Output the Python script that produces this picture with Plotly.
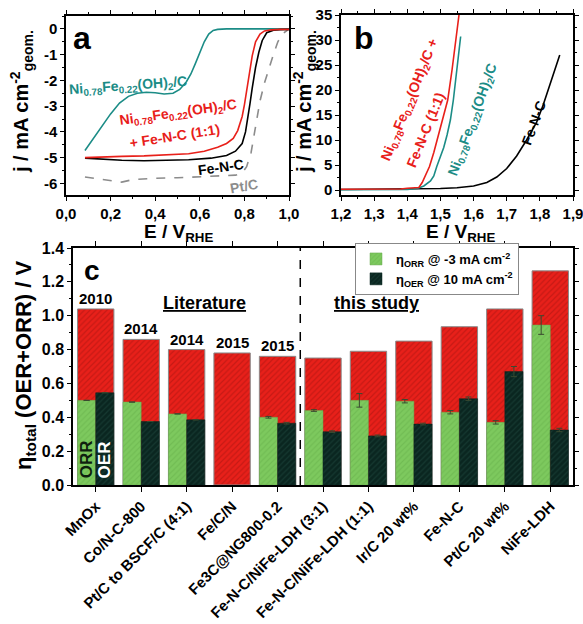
import plotly.graph_objects as go

W, H = 583, 624
FONT = "Liberation Sans, Arial, sans-serif"
TEAL = "#1b8c86"
RED = "#e8201a"
GREY = "#8c8c8c"

# ---------------- Panel a (ORR) data ----------------
a_teal_x = [0.085, 0.12, 0.16, 0.20, 0.24, 0.28, 0.32, 0.36, 0.40, 0.44, 0.48, 0.51, 0.54, 0.56, 0.58, 0.60, 0.62, 0.64, 0.66, 0.68, 0.72, 0.80, 0.90, 1.00]
a_teal_y = [-4.72, -4.30, -3.80, -3.30, -2.88, -2.62, -2.50, -2.46, -2.48, -2.53, -2.50, -2.35, -2.05, -1.75, -1.35, -0.90, -0.50, -0.20, -0.06, -0.02, 0.0, 0.0, 0.0, 0.0]

a_red_x = [0.085, 0.15, 0.25, 0.35, 0.45, 0.55, 0.62, 0.68, 0.72, 0.75, 0.77, 0.79, 0.80, 0.81, 0.82, 0.835, 0.85, 0.87, 0.89, 0.92, 0.96, 1.00]
a_red_y = [-5.00, -4.97, -4.95, -4.93, -4.90, -4.85, -4.75, -4.60, -4.45, -4.25, -3.95, -3.40, -2.95, -2.40, -1.80, -1.05, -0.50, -0.20, -0.08, -0.04, -0.02, -0.02]

a_blk_x = [0.085, 0.15, 0.25, 0.35, 0.45, 0.55, 0.65, 0.72, 0.76, 0.79, 0.805, 0.815, 0.825, 0.835, 0.85, 0.865, 0.88, 0.90, 0.93, 0.96, 1.00]
a_blk_y = [-5.02, -5.06, -5.10, -5.12, -5.10, -5.08, -5.02, -4.92, -4.75, -4.45, -4.00, -3.50, -2.90, -2.30, -1.50, -0.90, -0.45, -0.15, -0.05, -0.03, -0.02]

a_pt_x = [0.085, 0.15, 0.20, 0.25, 0.30, 0.40, 0.50, 0.60, 0.70, 0.76, 0.79, 0.81, 0.83, 0.85, 0.87, 0.89, 0.91, 0.93, 0.95, 0.97, 1.00]
a_pt_y = [-5.75, -5.82, -5.90, -5.95, -5.85, -5.80, -5.78, -5.75, -5.72, -5.68, -5.60, -5.35, -4.80, -3.80, -2.80, -2.10, -1.50, -1.00, -0.50, -0.20, 0.0]

a_xticks = [0.0, 0.2, 0.4, 0.6, 0.8, 1.0]
a_xticktext = ["0,0", "0,2", "0,4", "0,6", "0,8", "1,0"]
a_yticks = [0, -1, -2, -3, -4, -5, -6]
a_yticktext = ["0", "-1", "-2", "-3", "-4", "-5", "-6"]

# ---------------- Panel b (OER) data ----------------
b_red_x = [1.20, 1.30, 1.38, 1.40, 1.435, 1.445, 1.455, 1.467, 1.48, 1.49, 1.50, 1.51, 1.522, 1.535, 1.545, 1.556]
b_red_y = [0.15, 0.15, 0.20, 0.35, 0.50, 1.5, 3.0, 4.7, 7.5, 10.0, 12.5, 15.0, 18.0, 24.0, 29.0, 35.0]

b_teal_x = [1.20, 1.30, 1.40, 1.43, 1.45, 1.47, 1.48, 1.489, 1.50, 1.51, 1.52, 1.53, 1.539, 1.55, 1.561]
b_teal_y = [0.05, 0.05, 0.10, 0.30, 0.80, 1.8, 2.8, 4.7, 6.5, 8.5, 11.0, 14.0, 18.0, 24.0, 30.7]

b_blk_x = [1.20, 1.40, 1.50, 1.55, 1.60, 1.64, 1.67, 1.70, 1.73, 1.76, 1.79, 1.81, 1.83, 1.845, 1.86]
b_blk_y = [0.10, 0.15, 0.30, 0.45, 0.80, 1.5, 2.6, 4.3, 6.8, 10.0, 13.5, 17.0, 21.0, 24.0, 27.0]

b_xticks = [1.2, 1.3, 1.4, 1.5, 1.6, 1.7, 1.8, 1.9]
b_xticktext = ["1,2", "1,3", "1,4", "1,5", "1,6", "1,7", "1,8", "1,9"]
b_yticks = [0, 5, 10, 15, 20, 25, 30, 35]

# ---------------- Panel c (bars) data ----------------
categories = ["MnOx", "Co/N-C-800", "Pt/C to BSCF/C (4:1)", "Fe/C/N", "Fe3C@NG800-0.2",
              "Fe-N-C/NiFe-LDH (3:1)", "Fe-N-C/NiFe-LDH (1:1)", "Ir/C 20 wt%", "Fe-N-C",
              "Pt/C 20 wt%", "NiFe-LDH"]
eta_total = [1.04, 0.86, 0.80, 0.78, 0.76, 0.75, 0.79, 0.85, 0.935, 1.04, 1.265]
eta_orr = [0.50, 0.49, 0.42, None, 0.40, 0.44, 0.50, 0.495, 0.43, 0.37, 0.945]
eta_oer = [0.545, 0.375, 0.385, None, 0.365, 0.315, 0.29, 0.36, 0.51, 0.67, 0.325]
err_orr = [0, 0, 0, 0, 0.005, 0.005, 0.04, 0.01, 0.01, 0.01, 0.055]
err_oer = [0, 0, 0, 0, 0.005, 0.005, 0.005, 0.005, 0.01, 0.03, 0.01]
years = ["2010", "2014", "2014", "2015", "2015"]
divider_x = 4.5
c_yticks = [0.0, 0.2, 0.4, 0.6, 0.8, 1.0, 1.2, 1.4]

x_idx = list(range(len(categories)))

fig = go.Figure()

def line_trace(x, y, ax, ay, color, dash="solid", width=1.6):
    return go.Scatter(x=x, y=y, xaxis=ax, yaxis=ay, mode="lines",
                      line=dict(color=color, width=width, dash=dash),
                      showlegend=False, hoverinfo="skip")

fig.add_trace(line_trace(a_pt_x, a_pt_y, "x", "y", GREY, dash="dash"))
fig.add_trace(line_trace(a_teal_x, a_teal_y, "x", "y", TEAL))
fig.add_trace(line_trace(a_blk_x, a_blk_y, "x", "y", "black"))
fig.add_trace(line_trace(a_red_x, a_red_y, "x", "y", RED))

fig.add_trace(line_trace(b_blk_x, b_blk_y, "x2", "y2", "black"))
fig.add_trace(line_trace(b_teal_x, b_teal_y, "x2", "y2", TEAL))
fig.add_trace(line_trace(b_red_x, b_red_y, "x2", "y2", RED))

# bars
fig.add_trace(go.Bar(x=x_idx, y=eta_total, width=0.8, offset=-0.4, xaxis="x3", yaxis="y3",
                     marker=dict(color=RED, line=dict(color="#8a8a8a", width=1),
                                 pattern=dict(shape="/", fgcolor="#a3140f", size=4, solidity=0.3)),
                     showlegend=False, hoverinfo="skip"))
fig.add_trace(go.Bar(x=x_idx, y=eta_orr, width=0.4, offset=-0.4, xaxis="x3", yaxis="y3",
                     name="η<sub>ORR</sub> @ -3 mA cm<sup>-2</sup>",
                     marker=dict(color="#7dc95e", line=dict(color="#6aa850", width=0.5),
                                 pattern=dict(shape="/", fgcolor="#66b04a", size=4, solidity=0.3)),
                     error_y=dict(type="data", array=err_orr, color="#3a4a30", thickness=1, width=3)))
fig.add_trace(go.Bar(x=x_idx, y=eta_oer, width=0.4, offset=0.0, xaxis="x3", yaxis="y3",
                     name="η<sub>OER</sub> @ 10 mA cm<sup>-2</sup>",
                     marker=dict(color="#0a2620", line=dict(color="#0a2620", width=0.5),
                                 pattern=dict(shape="/", fgcolor="#1f4a40", size=4, solidity=0.3)),
                     error_y=dict(type="data", array=err_oer, color="#3a4a30", thickness=1, width=3)))
fig.add_trace(go.Scatter(x=[divider_x, divider_x], y=[0, 1.4], xaxis="x3", yaxis="y3", mode="lines",
                         line=dict(color="black", width=1.5, dash="dash"), showlegend=False, hoverinfo="skip"))

tickfont = dict(family=FONT, size=15, color="black", weight="bold")
base = dict(showline=True, linecolor="black", linewidth=1.5, mirror="allticks", ticks="outside",
            ticklen=4, tickwidth=1.2, tickcolor="black", showgrid=False, zeroline=False,
            tickfont=tickfont, automargin=False, ticklabeloverflow="allow")

def px2x(p):
    return p / W

def px2y(p):
    return 1 - p / H

fig.update_layout(
    width=W, height=H, margin=dict(l=0, r=0, t=0, b=0, autoexpand=False),
    paper_bgcolor="white", plot_bgcolor="white",
    barmode="overlay",
    font=dict(family=FONT, color="black"),
    xaxis=dict(base, domain=[px2x(66), px2x(289)], range=[0, 1.0], anchor="y",
               tickmode="array", tickvals=a_xticks, ticktext=a_xticktext,
               minor=dict(tickmode="linear", tick0=0, dtick=0.1, ticks="outside", ticklen=2.5, tickcolor="black")),
    yaxis=dict(base, domain=[px2y(195), px2y(16)], range=[-6.45, 0.5], anchor="x",
               tickmode="array", tickvals=a_yticks, ticktext=a_yticktext,
               minor=dict(tickmode="linear", tick0=0, dtick=0.5, ticks="outside", ticklen=2.5, tickcolor="black")),
    xaxis2=dict(base, domain=[px2x(341), px2x(573)], range=[1.2, 1.9], anchor="y2",
                tickmode="array", tickvals=b_xticks, ticktext=b_xticktext,
                minor=dict(tickmode="linear", tick0=1.2, dtick=0.05, ticks="outside", ticklen=2.5, tickcolor="black")),
    yaxis2=dict(base, domain=[px2y(195), px2y(15)], range=[-1, 35], anchor="x2",
                tickmode="array", tickvals=b_yticks,
                minor=dict(tickmode="linear", tick0=0, dtick=2.5, ticks="outside", ticklen=2.5, tickcolor="black")),
    xaxis3=dict(base, domain=[px2x(73), px2x(573)], range=[-0.5, 10.5], anchor="y3",
                tickmode="array", tickvals=x_idx, ticktext=categories, tickangle=-45,
                ticklen=5, tickfont=dict(family=FONT, size=15, color="black", weight="bold")),
    yaxis3=dict(base, domain=[px2y(485), px2y(248)], range=[0, 1.4], anchor="x3",
                tickmode="array", tickvals=c_yticks, ticktext=[f"{v:.1f}" for v in c_yticks],
                tickfont=dict(family=FONT, size=16, color="black", weight="bold"),
                minor=dict(tickmode="linear", tick0=0, dtick=0.1, ticks="outside", ticklen=2.5, tickcolor="black")),
    legend=dict(x=px2x(355), y=px2y(243), xanchor="left", yanchor="top",
                bordercolor="#888888", borderwidth=1, bgcolor="white",
                font=dict(family=FONT, size=13, color="black", weight="bold"),
                tracegroupgap=2),
)

ann = []
def A(text, x, y, size, color="black", angle=0, xref="paper", yref="paper", **kw):
    d = dict(text=text, x=x, y=y, xref=xref, yref=yref, showarrow=False, textangle=angle,
             xanchor="center", yanchor="middle",
             font=dict(family=FONT, size=size, color=color, weight="bold"))
    d.update(kw)
    ann.append(d)

# panel letters
A("a", px2x(82), px2y(38), 32)
A("b", px2x(364), px2y(38), 32)
A("c", px2x(92), px2y(270), 28)

# axis titles
A("j / mA cm<sup>-2</sup><sub>geom.</sub>", px2x(22), px2y(102), 20, angle=-90)
A("j / mA cm<sup>-2</sup><sub>geom.</sub>", px2x(305), px2y(102), 20, angle=-90)
A("E / V<sub>RHE</sub>", px2x(178), px2y(233), 19)
A("E / V<sub>RHE</sub>", px2x(460), px2y(233), 19)
A("η<sub>total</sub> (OER+ORR) / V", px2x(25), px2y(366), 22, angle=-90)

# panel a curve labels
A("Ni<sub>0.78</sub>Fe<sub>0.22</sub>(OH)<sub>2</sub>/C", 0.28, -2.2, 14, TEAL, angle=-4, xref="x", yref="y")
A("Ni<sub>0.78</sub>Fe<sub>0.22</sub>(OH)<sub>2</sub>/C", 0.50, -3.25, 14, RED, angle=-8, xref="x", yref="y")
A("+ Fe-N-C (1:1)", 0.485, -4.15, 14, RED, angle=-9, xref="x", yref="y")
A("Fe-N-C", 0.695, -5.38, 14, "black", angle=-8, xref="x", yref="y")
A("Pt/C", 0.80, -6.1, 14, GREY, angle=-10, xref="x", yref="y")

# panel b curve labels
A("Ni<sub>0.78</sub>Fe<sub>0.22</sub>(OH)<sub>2</sub>/C +", 1.408, 18, 14, RED, angle=-68, xref="x2", yref="y2")
A("Fe-N-C (1:1)", 1.455, 12, 14, RED, angle=-68, xref="x2", yref="y2")
A("Ni<sub>0.78</sub>Fe<sub>0.22</sub>(OH)<sub>2</sub>/C", 1.598, 14, 14, TEAL, angle=-70, xref="x2", yref="y2")
A("Fe-N-C", 1.78, 13.5, 14, "black", angle=-70, xref="x2", yref="y2")

# panel c text
for i, yr in enumerate(years):
    A(yr, x_idx[i], eta_total[i], 15, xref="x3", yref="y3", yanchor="bottom")
A("<u>Literature</u>", 2.4, 1.075, 18, xref="x3", yref="y3")
A("<u>this study</u>", 6.17, 1.075, 18, xref="x3", yref="y3")
A("ORR", -0.2, 0.15, 17, "#0f1f0f", angle=-90, xref="x3", yref="y3")
A("OER", 0.2, 0.15, 17, "white", angle=-90, xref="x3", yref="y3")

fig.update_layout(annotations=ann)
fig.write_html("out.html", config={"displayModeBar": False},
               post_script="document.body.style.margin='0';document.body.style.overflow='hidden';")
